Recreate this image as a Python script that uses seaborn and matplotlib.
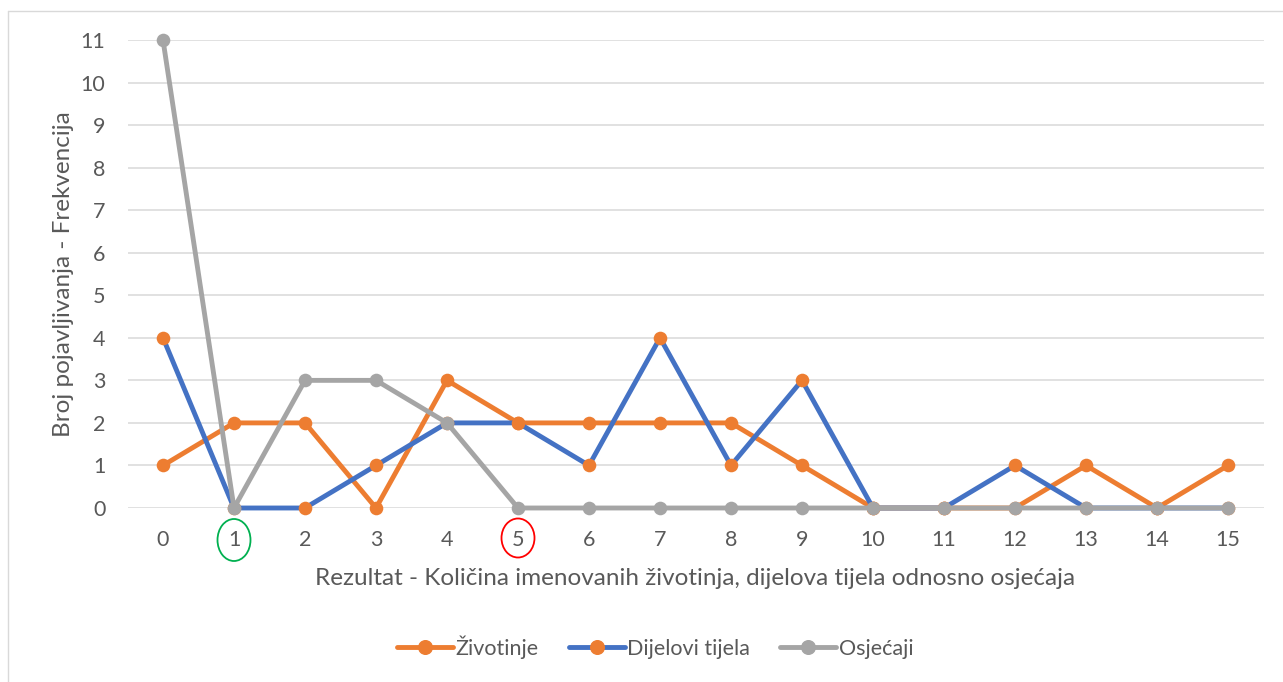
import matplotlib
matplotlib.use("Agg")
import matplotlib.pyplot as plt
import seaborn as sns
import pandas as pd
from matplotlib.patches import Ellipse
from matplotlib.lines import Line2D

x_vals = list(range(16))
zivotinje = [1, 2, 2, 0, 3, 2, 2, 2, 2, 1, 0, 0, 0, 1, 0, 1]
dijelovi = [4, 0, 0, 1, 2, 2, 1, 4, 1, 3, 0, 0, 1, 0, 0, 0]
osjecaji = [11, 0, 3, 3, 2, 0, 0, 0, 0, 0, 0, 0, 0, 0, 0, 0]
y_ticks = list(range(12))
x_label = "Rezultat - Količina imenovanih životinja, dijelova tijela odnosno osjećaja"
y_label = "Broj pojavljivanja - Frekvencija"
names = ["Životinje", "Dijelovi tijela", "Osjećaji"]

ORANGE = "#ED7D31"
BLUE = "#4472C4"
GRAY = "#A5A5A5"
TXT = "#595959"

sns.set_theme(style="white")
plt.rcParams["font.family"] = ["Lato", "DejaVu Sans"]

fig = plt.figure(figsize=(12.83, 6.82), dpi=100)
ax = fig.add_axes([127.5 / 1283, 1 - 508 / 682, (1263.5 - 127.5) / 1283, 468 / 682])

df = pd.DataFrame({"x": x_vals, names[0]: zivotinje, names[1]: dijelovi, names[2]: osjecaji})

lw = 3.5
ms = 9.8
sns.lineplot(data=df, x="x", y=names[0], ax=ax, color=ORANGE, lw=lw, marker="o",
             markersize=ms, markeredgecolor=ORANGE, markerfacecolor=ORANGE,
             markeredgewidth=0, clip_on=False, legend=False, zorder=3)
sns.lineplot(data=df, x="x", y=names[1], ax=ax, color=BLUE, lw=lw, marker="o",
             markersize=ms, markeredgecolor=ORANGE, markerfacecolor=ORANGE,
             markeredgewidth=0, clip_on=False, legend=False, zorder=4)
sns.lineplot(data=df, x="x", y=names[2], ax=ax, color=GRAY, lw=lw, marker="o",
             markersize=ms, markeredgecolor=GRAY, markerfacecolor=GRAY,
             markeredgewidth=0, clip_on=False, legend=False, zorder=5)

ax.set_xlim(-0.5, 15.5)
ax.set_ylim(0, 11)
ax.set_xticks(x_vals)
ax.set_xticklabels([str(v) for v in x_vals])
ax.set_yticks(y_ticks)
ax.set_yticklabels([str(v) for v in y_ticks])
ax.grid(axis="y", color="#D9D9D9", lw=1.1, zorder=0)
ax.set_axisbelow(True)
for s in ax.spines.values():
    s.set_visible(False)
ax.tick_params(axis="both", length=0, labelsize=15.5, labelcolor=TXT)
ax.tick_params(axis="y", pad=16)
ax.tick_params(axis="x", pad=16)
ax.set_xlabel(x_label, fontsize=17.5, color=TXT, labelpad=13)
ax.set_ylabel(y_label, fontsize=17.5, color=TXT, labelpad=5)

# annotation ellipses around tick labels 1 and 5
tr = ax.get_xaxis_transform()
ax.add_patch(Ellipse((1, -32 / 468), 33 / 71, 42 / 468, transform=tr, fill=False,
                     edgecolor="#00B050", lw=1.3, clip_on=False))
ax.add_patch(Ellipse((5, -30 / 468), 33 / 71, 39 / 468, transform=tr, fill=False,
                     edgecolor="#FF0000", lw=1.3, clip_on=False))

handles = [
    Line2D([0], [0], color=ORANGE, lw=lw, marker="o", markersize=ms, mfc=ORANGE, mec=ORANGE),
    Line2D([0], [0], color=BLUE, lw=lw, marker="o", markersize=ms, mfc=ORANGE, mec=ORANGE),
    Line2D([0], [0], color=GRAY, lw=lw, marker="o", markersize=ms, mfc=GRAY, mec=GRAY),
]
leg = fig.legend(handles, names, loc="center", bbox_to_anchor=(655 / 1283, 1 - 647 / 682),
                 ncol=3, frameon=False, fontsize=15.5, handlelength=2.6, handletextpad=0.12,
                 columnspacing=1.4)
for t in leg.get_texts():
    t.set_color(TXT)

# chart-area border (top and left edges visible in the reference)
fig.add_artist(Line2D([8 / 1283, 1], [1 - 10.5 / 682, 1 - 10.5 / 682], transform=fig.transFigure,
                      color="#D9D9D9", lw=1.0))
fig.add_artist(Line2D([8 / 1283, 8 / 1283], [0, 1 - 10.5 / 682], transform=fig.transFigure,
                      color="#D9D9D9", lw=1.0))

fig.savefig("out.png", dpi=100)
